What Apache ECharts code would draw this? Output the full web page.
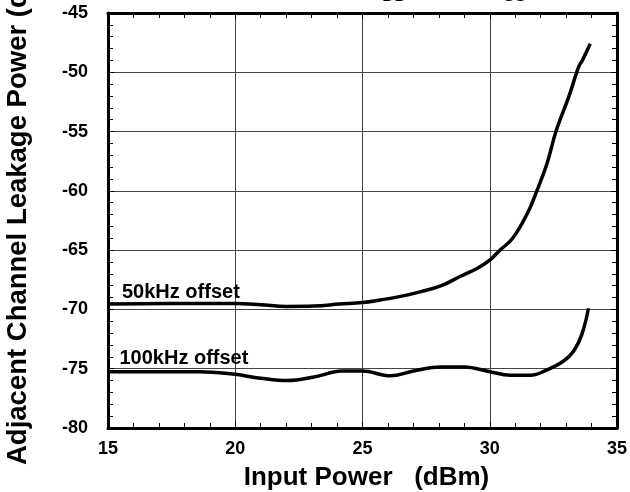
<!DOCTYPE html>
<html>
<head>
<meta charset="utf-8">
<script src="https://cdn.jsdelivr.net/npm/echarts@6/dist/echarts.min.js"></script>
<style>html,body{margin:0;padding:0;background:#fff}#c{width:630px;height:492px}</style>
</head>
<body>
<div id="c"></div>
<script>
// Data
var x50 = [15, 17.4, 20, 21, 22, 23.1, 24.1, 25, 25.7, 26.5, 27.3, 28.1, 28.85, 29.5, 30, 30.4, 30.9, 31.5, 31.85, 32.25, 32.6, 33.1, 33.5, 33.65, 33.95];
var y50 = [-69.55, -69.5, -69.5, -69.6, -69.75, -69.72, -69.55, -69.42, -69.2, -68.9, -68.5, -68.0, -67.2, -66.55, -65.85, -65.0, -64.0, -61.8, -60.0, -57.7, -55.0, -52.1, -49.5, -48.95, -47.6];
var x100 = [15, 18.6, 19.9, 21, 22.05, 23.1, 24.2, 25, 26.1, 27, 28.07, 29, 30, 30.8, 31.6, 32.25, 32.9, 33.3, 33.62, 33.88];
var y100 = [-75.25, -75.25, -75.45, -75.8, -76.0, -75.7, -75.2, -75.2, -75.6, -75.2, -74.85, -74.85, -75.25, -75.55, -75.55, -75.1, -74.35, -73.5, -72.1, -69.9];
var seriesNames = ['50kHz offset', '100kHz offset'];
var xTitle = 'Input Power   (dBm)';
var yTitle = 'Adjacent Channel Leakage Power (dBm)';
var topTexts = ['DD', 'SS'];
var topTextX = [26.26, 30.98];

function pairs(xs, ys) { return xs.map(function (v, i) { return [v, ys[i]]; }); }

var FONT = "'Liberation Sans', Arial, Helvetica, sans-serif";
var chart = echarts.init(document.getElementById('c'), null, { renderer: 'canvas' });

function axisCommon(showLabel, showSplit) {
  return {
    axisLine: { show: true, lineStyle: { color: '#000', width: 3 } },
    axisTick: { show: true, inside: true, length: 6, lineStyle: { color: '#000', width: 1 } },
    minorTick: { show: true, splitNumber: 5, length: 5, lineStyle: { color: '#000', width: 1 } },
    splitLine: { show: showSplit, lineStyle: { color: '#444', width: 1 } },
    axisLabel: { show: showLabel, color: '#000', fontFamily: FONT, fontWeight: 'bold', fontSize: 18 }
  };
}

var xa0 = Object.assign({ type: 'value', min: 15, max: 35, interval: 5, position: 'bottom',
  name: xTitle, nameLocation: 'middle', nameGap: 37,
  nameTextStyle: { color: '#000', fontFamily: FONT, fontWeight: 'bold', fontSize: 26, padding: [0, 0, 0, 8] } }, axisCommon(true, true));
xa0.axisLabel.margin = 12;
var xa1 = Object.assign({ type: 'value', min: 15, max: 35, interval: 5, position: 'top' }, axisCommon(false, false));
var ya0 = Object.assign({ type: 'value', min: -80, max: -45, interval: 5, position: 'left' }, axisCommon(true, true));
ya0.axisLabel.margin = 20;
var ya1 = Object.assign({ type: 'value', min: -80, max: -45, interval: 5, position: 'right' }, axisCommon(false, false));

chart.setOption({
  animation: false,
  backgroundColor: '#fff',
  grid: { left: 108, right: 13, top: 13, bottom: 64, containLabel: false, outerBoundsMode: 'none' },
  xAxis: [xa0, xa1],
  yAxis: [ya0, ya1],
  series: [
    { name: seriesNames[0], type: 'line', xAxisIndex: 0, yAxisIndex: 0, data: pairs(x50, y50),
      smooth: 0.4, showSymbol: false, lineStyle: { color: '#000', width: 3.5 } },
    { name: seriesNames[1], type: 'line', xAxisIndex: 0, yAxisIndex: 0, data: pairs(x100, y100),
      smooth: 0.4, showSymbol: false, lineStyle: { color: '#000', width: 3.5 } }
  ]
});

var p50 = chart.convertToPixel({ xAxisIndex: 0, yAxisIndex: 0 }, [15.55, -68.6]);
var p100 = chart.convertToPixel({ xAxisIndex: 0, yAxisIndex: 0 }, [15.45, -74.15]);
var g = [
  { type: 'text', x: p50[0], y: p50[1], style: { text: seriesNames[0], fill: '#000', font: 'bold 20px ' + FONT, textAlign: 'left', textVerticalAlign: 'middle' } },
  { type: 'text', x: p100[0], y: p100[1], style: { text: seriesNames[1], fill: '#000', font: 'bold 20px ' + FONT, textAlign: 'left', textVerticalAlign: 'middle' } },
  { type: 'text', x: 18, y: 465, rotation: Math.PI / 2, style: { text: yTitle, fill: '#000', font: 'bold 27.5px ' + FONT, textAlign: 'left', textVerticalAlign: 'middle' } }
];
topTexts.forEach(function (t, i) {
  var px = chart.convertToPixel({ xAxisIndex: 0 }, topTextX[i]);
  g.push({ type: 'text', x: px, y: 5, style: { text: t, fill: '#000', font: 'bold 17px ' + FONT, textAlign: 'center', textVerticalAlign: 'bottom' } });
});
chart.setOption({ graphic: g });
</script>
</body>
</html>
